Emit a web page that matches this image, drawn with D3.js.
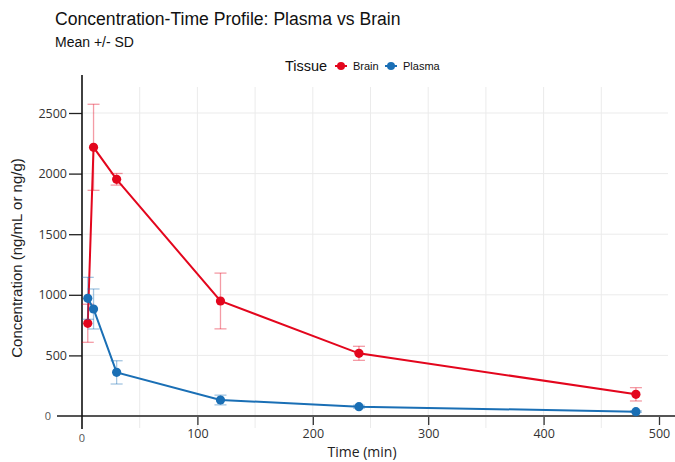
<!DOCTYPE html>
<html><head><meta charset="utf-8">
<script src="https://cdn.jsdelivr.net/npm/d3@7"></script>
<style>body{margin:0;background:#fff}svg{display:block}</style>
</head><body>
<svg id="chart" width="675" height="462"></svg>
<script>
const times = [5, 10, 30, 120, 240, 480];
const brainMean = [765, 2217, 1953, 949, 517, 179];
const brainSD = [157, 355, 48, 230, 58, 55];
const plasmaMean = [971, 883, 360, 132, 77, 36];
const plasmaSD = [173, 165, 96, 40, 12, 6];
const seriesNames = ["Brain", "Plasma"];
const seriesColors = ["#e3061d", "#1a6fb5"];
const xTicks = [100, 200, 300, 400, 500];
const yTicks = [500, 1000, 1500, 2000, 2500];
const xGrid = [50, 100, 150, 200, 250, 300, 350, 400, 450];

const svg = d3.select("#chart");
const x = d3.scaleLinear().domain([0, 500]).range([82, 659]);
const y = d3.scaleLinear().domain([0, 2500]).range([416, 113]);
const tickFont = "'Open Sans', 'Noto Sans', sans-serif";
const titleFont = "'Liberation Sans', Arial, sans-serif";

// gridlines
svg.append("g").selectAll("line").data(xGrid).join("line")
  .attr("x1", d => x(d)).attr("x2", d => x(d)).attr("y1", 87).attr("y2", 428)
  .attr("stroke", "#ebebeb").attr("stroke-width", 1);
svg.append("g").selectAll("line").data(yTicks).join("line")
  .attr("x1", 83).attr("x2", 668).attr("y1", d => y(d)).attr("y2", d => y(d))
  .attr("stroke", "#ebebeb").attr("stroke-width", 1);

// y axis
const yAxis = d3.axisLeft(y).tickValues(yTicks).tickSize(13).tickPadding(2).tickFormat(d3.format("d"));
const gy = svg.append("g").attr("transform", "translate(82,0)").call(yAxis);
gy.select(".domain").remove();
gy.selectAll(".tick line").attr("stroke", "#222").attr("stroke-width", 1.3);
gy.selectAll(".tick text").attr("font-family", tickFont).attr("font-size", 12.5).attr("fill", "#333");

// x axis
const xAxis = d3.axisBottom(x).tickValues(xTicks).tickSize(9).tickPadding(4).tickFormat(d3.format("d"));
const gx = svg.append("g").attr("transform", "translate(0,416)").call(xAxis);
gx.select(".domain").remove();
gx.selectAll(".tick line").attr("stroke", "#333").attr("stroke-width", 1.3);
gx.selectAll(".tick text").attr("font-family", tickFont).attr("font-size", 12.5).attr("fill", "#333");

// zero lines
svg.append("line").attr("x1", 57).attr("x2", 675).attr("y1", y(0)).attr("y2", y(0))
  .attr("stroke", "#555").attr("stroke-width", 2);
svg.append("line").attr("x1", x(0)).attr("x2", x(0)).attr("y1", 75).attr("y2", 429)
  .attr("stroke", "#111").attr("stroke-width", 1.6);
svg.append("text").attr("x", 51).attr("y", y(0)).attr("dy", "0.35em").attr("text-anchor", "end")
  .attr("font-family", tickFont).attr("font-size", 11).attr("fill", "#555").text("0");
svg.append("text").attr("x", x(0)).attr("y", 442).attr("text-anchor", "middle")
  .attr("font-family", tickFont).attr("font-size", 11).attr("fill", "#555").text("0");

// series
const series = [
  {name: seriesNames[0], color: seriesColors[0], mean: brainMean, sd: brainSD},
  {name: seriesNames[1], color: seriesColors[1], mean: plasmaMean, sd: plasmaSD}
];
const line = d3.line().x(d => x(d.t)).y(d => y(d.m));
series.forEach(s => {
  const pts = times.map((t, i) => ({t, m: s.mean[i], sd: s.sd[i]}));
  const g = svg.append("g");
  const eb = g.append("g").attr("stroke", s.color).attr("stroke-opacity", 0.4).attr("stroke-width", 1.3);
  pts.forEach(p => {
    eb.append("line").attr("x1", x(p.t)).attr("x2", x(p.t)).attr("y1", y(p.m - p.sd)).attr("y2", y(p.m + p.sd));
    [p.m - p.sd, p.m + p.sd].forEach(v => {
      eb.append("line").attr("x1", x(p.t) - 6).attr("x2", x(p.t) + 6).attr("y1", y(v)).attr("y2", y(v));
    });
  });
  g.append("path").datum(pts).attr("d", line).attr("fill", "none")
    .attr("stroke", s.color).attr("stroke-width", 2);
  g.selectAll("circle").data(pts).join("circle")
    .attr("cx", d => x(d.t)).attr("cy", d => y(d.m)).attr("r", 4.6).attr("fill", s.color);
});

// titles
svg.append("text").attr("x", 55).attr("y", 25).attr("font-family", titleFont).attr("font-size", 17.6)
  .attr("fill", "#111").text("Concentration-Time Profile: Plasma vs Brain");
svg.append("text").attr("x", 55).attr("y", 47).attr("font-family", titleFont).attr("font-size", 14)
  .attr("fill", "#111").text("Mean +/- SD");

// axis titles
svg.append("text").attr("x", 362).attr("y", 457).attr("text-anchor", "middle")
  .attr("font-family", tickFont).attr("font-size", 14).attr("fill", "#222").text("Time (min)");
svg.append("text").attr("transform", "translate(22,258) rotate(-90)").attr("text-anchor", "middle")
  .attr("font-family", titleFont).attr("font-size", 15).attr("fill", "#222").text("Concentration (ng/mL or ng/g)");

// legend
const lg = svg.append("g");
lg.append("text").attr("x", 285).attr("y", 71).attr("font-family", titleFont).attr("font-size", 14.5)
  .attr("fill", "#111").text("Tissue");
const legendX = [341, 391];
series.forEach((s, i) => {
  lg.append("line").attr("x1", legendX[i] - 6).attr("x2", legendX[i] + 6).attr("y1", 66).attr("y2", 66)
    .attr("stroke", s.color).attr("stroke-width", 2);
  lg.append("circle").attr("cx", legendX[i]).attr("cy", 66).attr("r", 4).attr("fill", s.color);
  lg.append("text").attr("x", legendX[i] + 12).attr("y", 70).attr("font-family", titleFont)
    .attr("font-size", 11).attr("fill", "#111").text(s.name);
});
</script>
</body></html>
